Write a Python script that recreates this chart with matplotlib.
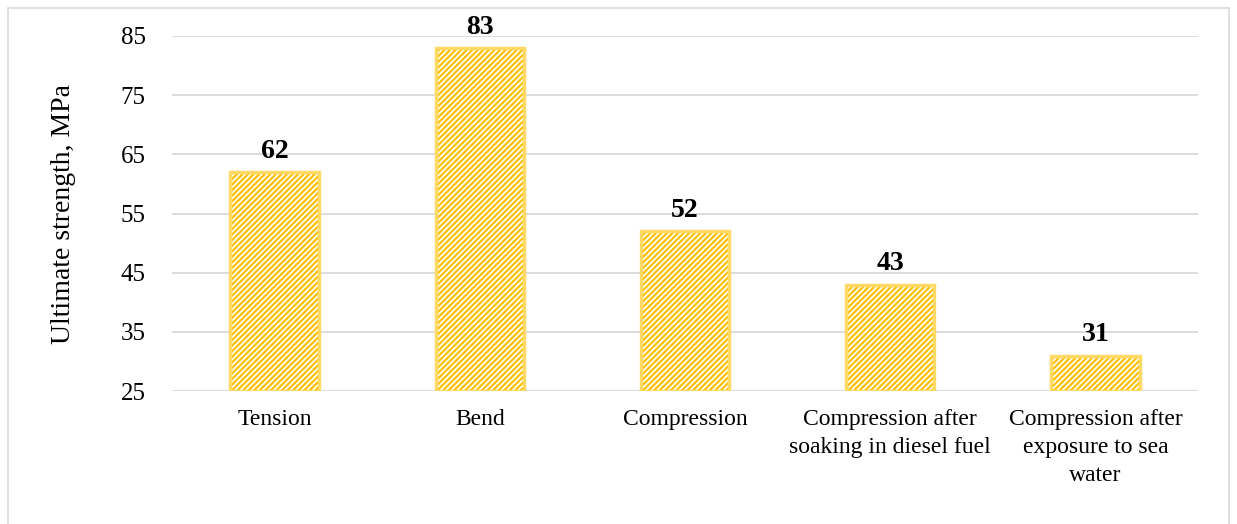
import matplotlib.pyplot as plt
from matplotlib.patches import Rectangle

# Ultimate strength for each loading case
categories = ['Tension', 'Bend', 'Compression',
              'Compression after\nsoaking in diesel fuel',
              'Compression after\nexposure to sea\nwater']
strength = [62, 83, 52, 43, 31]
yticks = [25, 35, 45, 55, 65, 75, 85]

plt.rcParams['font.family'] = ['Liberation Serif', 'DejaVu Serif']
plt.rcParams['hatch.linewidth'] = 1.6

fig = plt.figure(figsize=(12.37, 5.24), dpi=100)
ax = fig.add_axes([172 / 1237, 1 - 391 / 524, (1198 - 172) / 1237, (391 - 36) / 524])

x = range(len(categories))
base = yticks[0]
heights = [v - base for v in strength]

# hatched fill first, then the outline on top
ax.bar(x, heights, bottom=base, width=0.43, color='white', edgecolor='#FFC000',
       hatch='//////', linewidth=0, zorder=2)
ax.bar(x, heights, bottom=base, width=0.43, color='none', edgecolor='#FFD966',
       linewidth=2.5, zorder=3)

for xi, v in zip(x, strength):
    ax.text(xi, v + 1.4, str(v), ha='center', va='bottom', fontsize=20,
            fontweight='bold')

ax.set_ylim(25, 85)
ax.set_xlim(-0.5, len(categories) - 0.5)
ax.set_yticks(yticks)
ax.set_xticks(list(x))
ax.set_xticklabels(categories, fontsize=17, linespacing=1.45)
ax.tick_params(axis='y', labelsize=18, length=0, pad=19)
ax.tick_params(axis='x', length=0, pad=13)
ax.yaxis.grid(True, color='#D9D9D9', linewidth=1.3, zorder=0)
ax.set_axisbelow(True)
for s in ax.spines.values():
    s.set_visible(False)

ax.set_ylabel('Ultimate strength, MPa', fontsize=20, labelpad=32)

# light frame round the chart area
fig.patches.append(Rectangle((8 / 1237, -0.05), (1229 - 8) / 1237, 1 - 8 / 524 + 0.05,
                             transform=fig.transFigure, fill=False,
                             edgecolor='#D9D9D9', linewidth=1.2))

fig.savefig('out.png', dpi=100)
